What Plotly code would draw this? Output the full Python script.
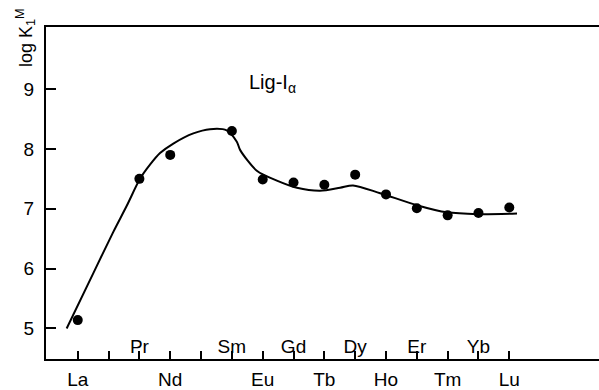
import plotly.graph_objects as go

# Lanthanide series (La..Lu), index 0..14
elements = ["La", "Ce", "Pr", "Nd", "Pm", "Sm", "Eu", "Gd", "Tb", "Dy", "Ho", "Er", "Tm", "Yb", "Lu"]
below_labels = ["La", "Nd", "Eu", "Tb", "Ho", "Tm", "Lu"]
above_labels = ["Pr", "Sm", "Gd", "Dy", "Er", "Yb"]
unlabelled = ["Ce", "Pm"]

# Measured log K1 values
point_elements = ["La", "Pr", "Nd", "Sm", "Eu", "Gd", "Tb", "Dy", "Ho", "Er", "Tm", "Yb", "Lu"]
log_k1 = [5.14, 7.50, 7.90, 8.30, 7.49, 7.44, 7.40, 7.57, 7.24, 7.01, 6.89, 6.93, 7.02]

# Smoothed trend curve through the series
curve_x = [-0.36, 0.51, 1.15, 1.59, 2.02, 2.35, 2.67, 3.10, 3.75, 4.29, 4.83, 5.16, 5.27,
           5.82, 6.46, 7.11, 7.86, 8.51, 8.93, 9.81, 11.0, 11.98, 12.98, 14.25]
curve_y = [5.00, 5.93, 6.61, 7.05, 7.50, 7.74, 7.93, 8.09, 8.26, 8.33, 8.31, 8.12, 7.98,
           7.63, 7.47, 7.35, 7.30, 7.35, 7.39, 7.26, 7.06, 6.94, 6.91, 6.92]

y_ticks = [5, 6, 7, 8, 9]

FONT = "Liberation Sans, Arial, sans-serif"
idx = {e: i for i, e in enumerate(elements)}
X_RANGE = [-1.03, 16.91]

fig = go.Figure()
fig.add_trace(go.Scatter(
    x=curve_x, y=curve_y, mode="lines",
    line=dict(color="black", width=2, shape="spline", smoothing=0.8),
    hoverinfo="skip", showlegend=False,
))
fig.add_trace(go.Scatter(
    x=[idx[e] for e in point_elements], y=log_k1, mode="markers",
    marker=dict(color="black", size=10),
    showlegend=False,
))

fig.add_annotation(
    x=(247 - 77.7) / 30.83, y=9 + (90 - 84) / 60.75, xref="x", yref="y",
    xanchor="left", yanchor="middle",
    text="Lig-I<sub>α</sub>", showarrow=False,
    font=dict(family=FONT, size=20, color="black"),
)
fig.add_annotation(
    x=-0.036, y=0.967, xref="paper", yref="paper",
    xanchor="center", yanchor="middle",
    text="log K<sub>1</sub><sup>M</sup>", textangle=-90, showarrow=False,
    font=dict(family=FONT, size=18, color="black"),
)

common_x = dict(
    range=X_RANGE, tickmode="array", ticks="inside", ticklen=8, tickwidth=2,
    tickcolor="black", showgrid=False, zeroline=False,
    tickfont=dict(family=FONT, size=19, color="black"),
)

fig.update_layout(
    width=599, height=390,
    margin=dict(l=46, r=0, t=27, b=26),
    paper_bgcolor="white", plot_bgcolor="white",
    font=dict(family=FONT, size=19, color="black"),
    xaxis=dict(
        **common_x,
        tickvals=[idx[e] for e in below_labels], ticktext=below_labels,
        showline=True, linecolor="black", linewidth=2, mirror=True,
        ticklabelstandoff=2,
    ),
    # element labels written above the axis line
    xaxis2=dict(
        **common_x, overlaying="x", anchor="y", side="bottom",
        tickvals=[idx[e] for e in above_labels], ticktext=above_labels,
        ticklabelposition="inside", showline=False, ticklabelstandoff=-5,
    ),
    # unlabelled tick marks
    xaxis3=dict(
        **common_x, overlaying="x", anchor="y", side="bottom",
        tickvals=[idx[e] for e in unlabelled], showticklabels=False, showline=False,
    ),
    yaxis=dict(
        range=[4.49, 10.037], tickmode="array", tickvals=y_ticks,
        ticktext=[str(v) for v in y_ticks],
        ticks="inside", ticklen=10, tickwidth=2, tickcolor="black",
        showline=True, linecolor="black", linewidth=2,
        showgrid=False, zeroline=False, ticklabelstandoff=6,
        tickfont=dict(family=FONT, size=19, color="black"),
    ),
)

# attach empty traces so the overlay axes are drawn
fig.add_trace(go.Scatter(x=[], y=[], xaxis="x2", yaxis="y", showlegend=False))
fig.add_trace(go.Scatter(x=[], y=[], xaxis="x3", yaxis="y", showlegend=False))

fig.write_html("out.html")
